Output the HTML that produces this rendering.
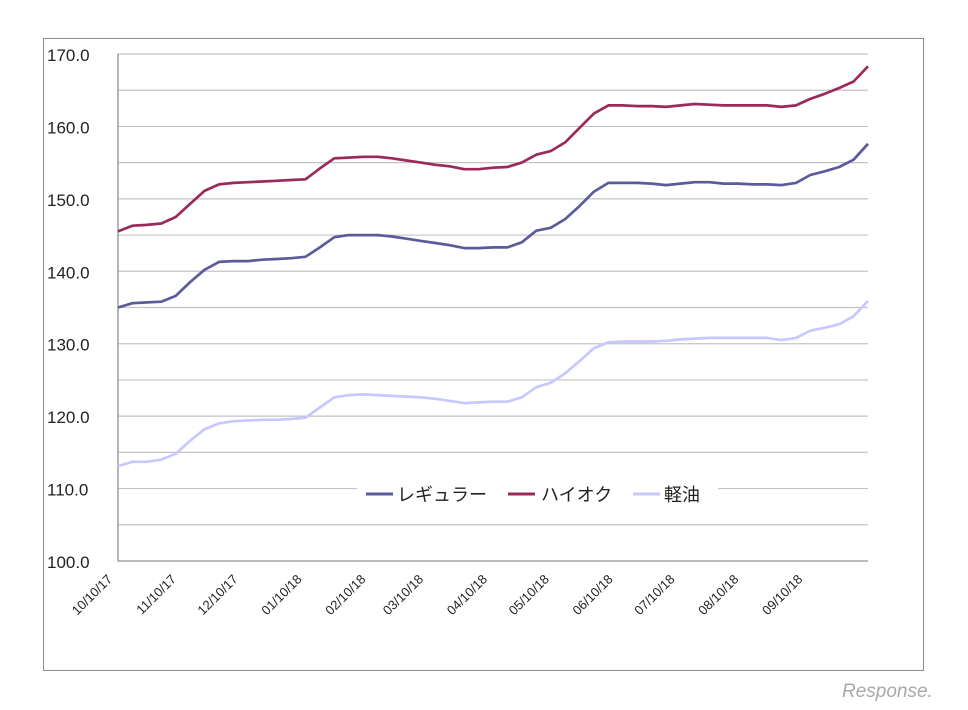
<!DOCTYPE html>
<html><head><meta charset="utf-8"><style>
body{margin:0;background:#fff;}
svg{display:block;font-family:"Liberation Sans","Noto Sans CJK JP",sans-serif;}
</style></head><body>
<svg id="chart" width="968" height="710" viewBox="0 0 968 710" xmlns="http://www.w3.org/2000/svg">
<rect x="43.5" y="38.5" width="880" height="632" fill="#fff" stroke="#8c8c8c" stroke-width="1"/>
<g id="grid"></g>
<g id="yticks"></g>
<g id="xticks"></g>
<g id="series"></g>
<g>
<rect x="357" y="478" width="361" height="32" fill="#fff"/>
<line x1="366" y1="494" x2="393" y2="494" stroke="#5b5b9b" stroke-width="3"/>
<text x="397" y="501" font-size="18" fill="#222">レギュラー</text>
<line x1="508" y1="494" x2="535" y2="494" stroke="#9b2a5c" stroke-width="3"/>
<text x="541" y="501" font-size="18" fill="#222">ハイオク</text>
<line x1="633" y1="494" x2="660" y2="494" stroke="#c8c8ff" stroke-width="3"/>
<text x="664" y="501" font-size="18" fill="#222">軽油</text>
</g>
<text x="842" y="697" font-size="19" fill="#a8a8a8" font-style="italic">Response.</text>
</svg>
<script>
const regular=[135.0,135.6,135.7,135.8,136.6,138.5,140.2,141.3,141.4,141.4,141.6,141.7,141.8,142.0,143.3,144.7,145.0,145.0,145.0,144.8,144.5,144.2,143.9,143.6,143.2,143.2,143.3,143.3,144.0,145.6,146.0,147.2,149.0,151.0,152.2,152.2,152.2,152.1,151.9,152.1,152.3,152.3,152.1,152.1,152.0,152.0,151.9,152.2,153.3,153.8,154.4,155.4,157.6];
const highOctane=[145.5,146.3,146.4,146.6,147.5,149.3,151.1,152.0,152.2,152.3,152.4,152.5,152.6,152.7,154.2,155.6,155.7,155.8,155.8,155.6,155.3,155.0,154.7,154.5,154.1,154.1,154.3,154.4,155.0,156.1,156.6,157.8,159.8,161.8,162.9,162.9,162.8,162.8,162.7,162.9,163.1,163.0,162.9,162.9,162.9,162.9,162.7,162.9,163.8,164.5,165.3,166.2,168.3];
const diesel=[113.1,113.7,113.7,114.0,114.8,116.6,118.2,119.0,119.3,119.4,119.5,119.5,119.6,119.8,121.2,122.6,122.9,123.0,122.9,122.8,122.7,122.6,122.4,122.1,121.8,121.9,122.0,122.0,122.6,124.0,124.6,125.9,127.6,129.4,130.2,130.3,130.3,130.3,130.4,130.6,130.7,130.8,130.8,130.8,130.8,130.8,130.5,130.8,131.8,132.2,132.7,133.8,135.9];
const xLabels=["10/10/17","11/10/17","12/10/17","01/10/18","02/10/18","03/10/18","04/10/18","05/10/18","06/10/18","07/10/18","08/10/18","09/10/18"];
const xLabelWeeks=[0,4.43,8.71,13.14,17.57,21.57,26.0,30.29,34.71,39.0,43.43,47.86];
const yTicks=[100,110,120,130,140,150,160,170];
const yGrid=[105,110,115,120,125,130,135,140,145,150,155,160,165,170];

const X0=118,X1=868,Y0=561,Y1=54,YMIN=100,YMAX=170,NW=52;
const xs=i=>X0+(X1-X0)*i/NW;
const ys=v=>Y0-(v-YMIN)/(YMAX-YMIN)*(Y0-Y1);
const NS="http://www.w3.org/2000/svg";
function mk(t,a,p){const e=document.createElementNS(NS,t);for(const k in a)e.setAttribute(k,a[k]);p.appendChild(e);return e;}
const grid=document.getElementById('grid');
yGrid.forEach(v=>{
 const l=mk('line',{x1:X0,x2:X1,y1:ys(v),y2:ys(v),stroke:'#c4c4c4','stroke-width':1.2},grid);
 
 
});
const ax=mk('path',{d:`M${X0} ${Y1}V${Y0}H${X1}`,fill:'none',stroke:'#909090','stroke-width':1.3},grid);


const yt=document.getElementById('yticks');
yTicks.forEach(v=>{
 const t=mk('text',{x:47,y:ys(v)+7,'font-size':17,fill:'#222'},yt);
 t.textContent=v.toFixed(1);
 
 
});
const xt=document.getElementById('xticks');
xLabels.forEach((s,i)=>{
 const x=xs(xLabelWeeks[i])-5,y=580;
 const t=mk('text',{x:x,y:y,'font-size':13,fill:'#222','text-anchor':'end',transform:`rotate(-45 ${x} ${y})`},xt);
 t.textContent=s;
 
 
});
const sg=document.getElementById('series');
[[diesel,'#c8c8ff','series-diesel'],[regular,'#5b5b9b','series-regular'],[highOctane,'#9b2a5c','series-high-octane']].forEach(([d,c,n])=>{
 const p=mk('polyline',{points:d.map((v,i)=>xs(i).toFixed(1)+','+ys(v).toFixed(1)).join(' '),fill:'none',stroke:c,'stroke-width':2.7,'stroke-linejoin':'round'},sg);
 
 
});
</script>
</body></html>
